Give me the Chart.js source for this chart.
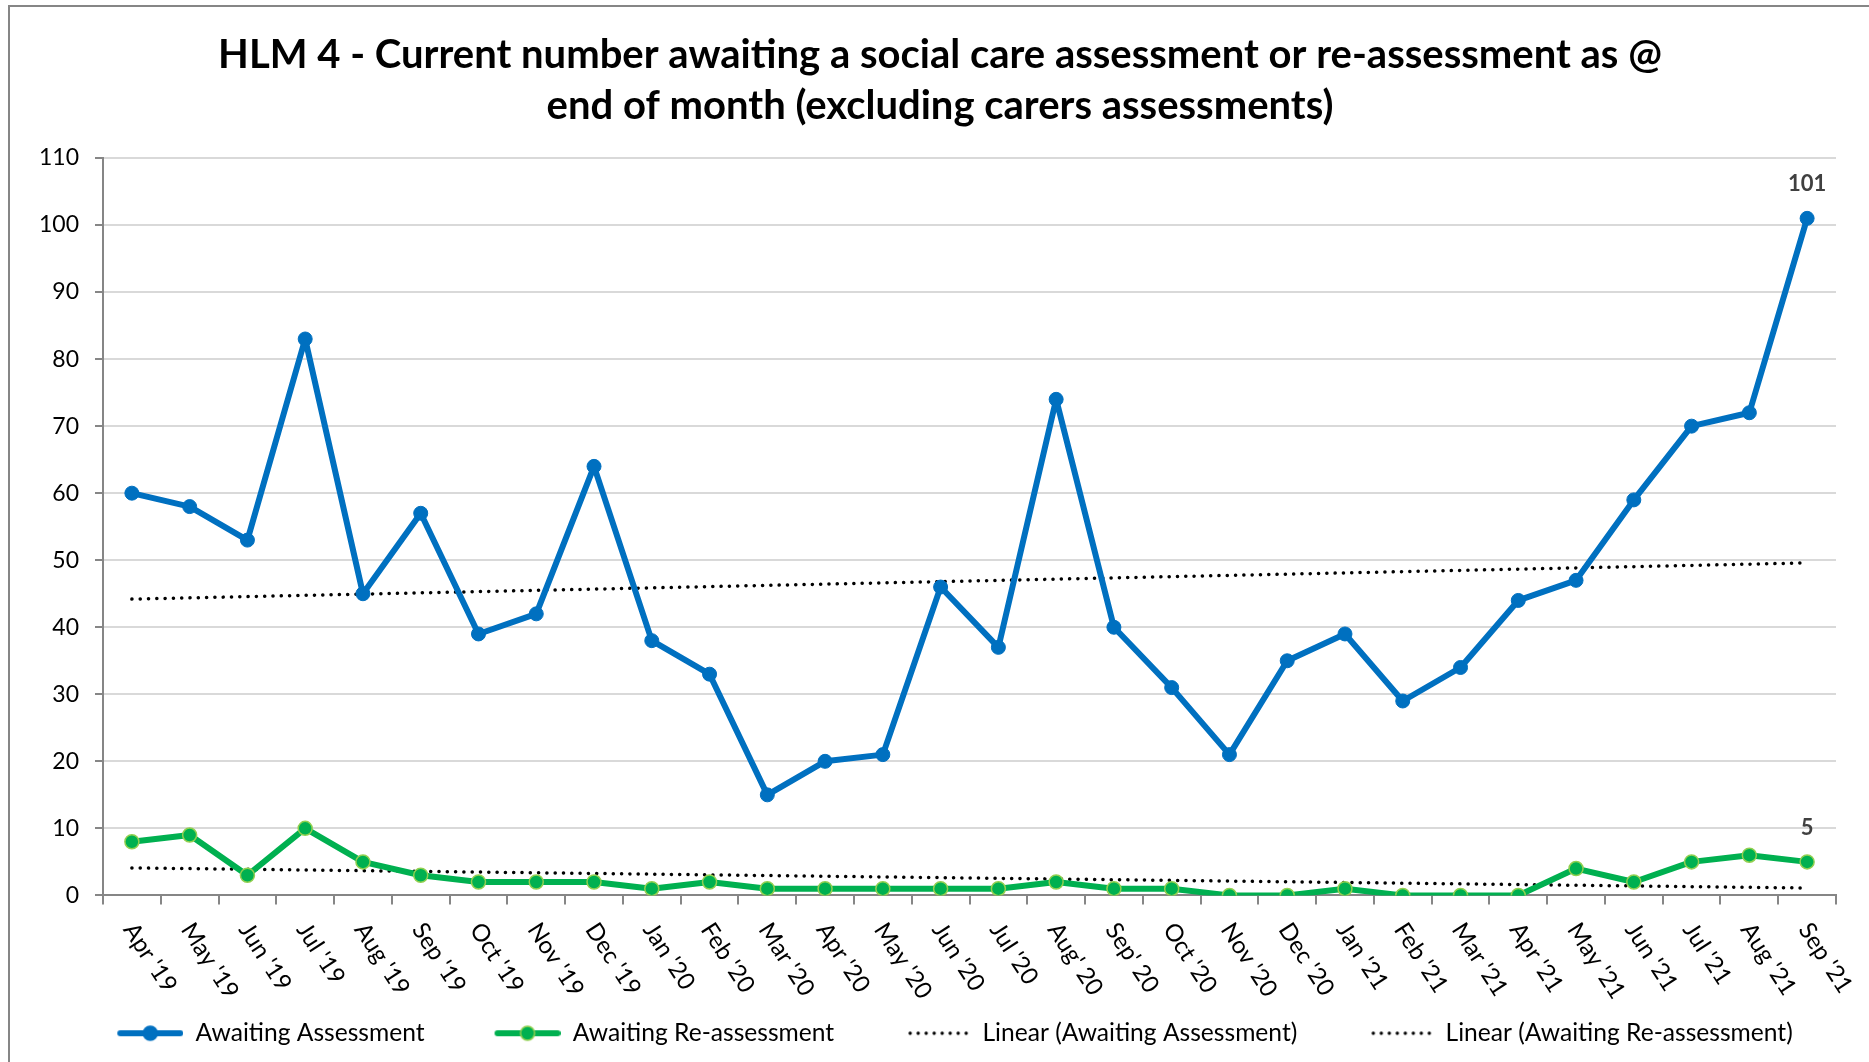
<!DOCTYPE html>
<html>
<head>
<meta charset="utf-8">
<title>HLM 4</title>
<script src="https://cdn.jsdelivr.net/npm/chart.js@4.4.1/dist/chart.umd.min.js"></script>
<style>
  html, body { margin: 0; padding: 0; background: #fff; overflow: hidden; }
  .frame { position: absolute; left: 8px; top: 5px; width: 1900px; height: 1100px; border: 2px solid #868686; }
  .chart-box { position: absolute; left: 0; top: 0; }
</style>
</head>
<body>
<div class="frame">
  <div class="chart-box"><canvas id="hlmChart" width="1860" height="1055"></canvas></div>
</div>
<script>
const months = ["Apr '19", "May '19", "Jun '19", "Jul '19", "Aug '19", "Sep '19", "Oct '19", "Nov '19", "Dec '19",
  "Jan '20", "Feb '20", "Mar '20", "Apr '20", "May '20", "Jun '20", "Jul '20", "Aug' 20", "Sep' 20", "Oct '20",
  "Nov '20", "Dec '20", "Jan '21", "Feb '21", "Mar '21", "Apr '21", "May '21", "Jun '21", "Jul '21", "Aug '21", "Sep '21"];

const awaitingAssessment = [60, 58, 53, 83, 45, 57, 39, 42, 64, 38, 33, 15, 20, 21, 46, 37, 74, 40, 31, 21,
  35, 39, 29, 34, 44, 47, 59, 70, 72, 101];
const awaitingReassessment = [8, 9, 3, 10, 5, 3, 2, 2, 2, 1, 2, 1, 1, 1, 1, 1, 2, 1, 1, 0,
  0, 1, 0, 0, 0, 4, 2, 5, 6, 5];

// trend line ends at the first and last month
const trendAssessment = [44.2, 49.6];
const trendReassessment = [4.1, 1.1];

const yMin = 0;
const yMax = 110;
const yStep = 10;

const seriesNames = ['Awaiting Assessment', 'Awaiting Re-assessment',
  'Linear (Awaiting Assessment)', 'Linear (Awaiting Re-assessment)'];

const FONT = 'Lato';
const BLUE = '#0070C0';
const GREEN = '#00B050';
const LIGHT_GREEN = '#92D050';

function trendData(ends) {
  return months.map((m, i) => (i === 0 ? ends[0] : (i === months.length - 1 ? ends[1] : null)));
}

// legend key: blank space on the left keeps the gap between legend entries
function legendSymbol(color, border, dotted) {
  const c = document.createElement('canvas');
  c.width = 96;
  c.height = 18;
  const g = c.getContext('2d');
  if (dotted) {
    g.fillStyle = '#000';
    for (let x = 36; x < 96; x += 8) {
      g.beginPath();
      g.arc(x, 9, 1.7, 0, Math.PI * 2);
      g.fill();
    }
  } else {
    g.strokeStyle = color;
    g.lineWidth = 6;
    g.lineCap = 'round';
    g.beginPath();
    g.moveTo(33, 9);
    g.lineTo(93, 9);
    g.stroke();
    g.fillStyle = color;
    g.strokeStyle = border;
    g.lineWidth = 1.5;
    g.beginPath();
    g.arc(63, 9, 7, 0, Math.PI * 2);
    g.fill();
    g.stroke();
  }
  return c;
}

const legendSymbols = [
  legendSymbol(BLUE, BLUE, false),
  legendSymbol(GREEN, LIGHT_GREEN, false),
  legendSymbol('#000', '#000', true),
  legendSymbol('#000', '#000', true)
];

// month labels run down to the right from each tick
const monthLabels = {
  id: 'monthLabels',
  afterDraw(chart) {
    const {ctx} = chart;
    const x = chart.scales.x;
    ctx.save();
    ctx.font = '24px ' + FONT;
    ctx.fillStyle = '#000';
    ctx.textAlign = 'left';
    ctx.textBaseline = 'middle';
    months.forEach((m, i) => {
      ctx.save();
      ctx.translate(x.getPixelForValue(i) - 3, x.top + 30);
      ctx.rotate(57 * Math.PI / 180);
      ctx.fillText(m, 0, 0);
      ctx.restore();
    });
    ctx.restore();
  }
};

// value label over the last point of each main series
const lastValues = {
  id: 'lastValues',
  afterDatasetsDraw(chart) {
    const {ctx} = chart;
    ctx.save();
    ctx.font = 'bold 22px ' + FONT;
    ctx.fillStyle = '#404040';
    ctx.textAlign = 'center';
    ctx.textBaseline = 'middle';
    [0, 1].forEach(di => {
      const data = chart.data.datasets[di].data;
      const pt = chart.getDatasetMeta(di).data[data.length - 1];
      ctx.fillText(String(data[data.length - 1]), pt.x, pt.y - 34);
    });
    ctx.restore();
  }
};

new Chart(document.getElementById('hlmChart'), {
  type: 'line',
  data: {
    labels: months,
    datasets: [
      {
        label: seriesNames[0],
        data: awaitingAssessment,
        borderColor: BLUE,
        backgroundColor: BLUE,
        borderWidth: 6,
        borderJoinStyle: 'round',
        pointRadius: 7,
        pointBorderWidth: 1,
        pointBorderColor: BLUE,
        pointBackgroundColor: BLUE,
        tension: 0,
        order: 1
      },
      {
        label: seriesNames[1],
        data: awaitingReassessment,
        borderColor: GREEN,
        backgroundColor: GREEN,
        borderWidth: 6,
        borderJoinStyle: 'round',
        pointRadius: 7,
        pointBorderWidth: 1.5,
        pointBorderColor: LIGHT_GREEN,
        pointBackgroundColor: GREEN,
        tension: 0,
        order: 1
      },
      {
        label: seriesNames[2],
        data: trendData(trendAssessment),
        borderColor: '#000',
        borderWidth: 3.5,
        borderDash: [0.1, 8.2],
        borderCapStyle: 'round',
        pointRadius: 0,
        spanGaps: true,
        order: 2
      },
      {
        label: seriesNames[3],
        data: trendData(trendReassessment),
        borderColor: '#000',
        borderWidth: 3.5,
        borderDash: [0.1, 8.2],
        borderCapStyle: 'round',
        pointRadius: 0,
        spanGaps: true,
        order: 2
      }
    ]
  },
  options: {
    responsive: false,
    animation: false,
    layout: { padding: { left: 0, right: 0, top: 0, bottom: 6.5 } },
    plugins: {
      title: {
        display: true,
        text: ['HLM 4 - Current number awaiting a social care assessment or re-assessment as @',
          'end of month (excluding carers assessments)'],
        color: '#000',
        font: { family: FONT, size: 40, weight: 'bold', lineHeight: 1.275 },
        padding: { top: 23, bottom: 26 }
      },
      legend: {
        position: 'bottom',
        labels: {
          color: '#000',
          font: { family: FONT, size: 24.6 },
          usePointStyle: true,
          pointStyleWidth: 96,
          padding: 40,
          generateLabels(chart) {
            const items = Chart.defaults.plugins.legend.labels.generateLabels(chart);
            items.forEach((it, i) => { it.pointStyle = legendSymbols[i]; });
            return items;
          }
        }
      },
      tooltip: { enabled: false }
    },
    scales: {
      x: {
        offset: true,
        border: { color: '#868686', width: 2 },
        grid: { display: true, offset: true, drawOnChartArea: false, drawTicks: true, tickLength: 9, tickColor: '#868686', lineWidth: 2 },
        ticks: { display: false },
        afterFit(scale) { scale.height += 76.5; }
      },
      y: {
        min: yMin,
        max: yMax,
        border: { color: '#868686', width: 2 },
        grid: { color: '#D9D9D9', lineWidth: 2, tickColor: '#868686', tickLength: 8 },
        ticks: { stepSize: yStep, color: '#000', font: { family: FONT, size: 23 }, padding: 16 },
        afterFit(scale) { scale.width = 93; }
      },
      // empty right-hand axis, only holds the margin beside the plot
      yRight: {
        position: 'right',
        display: true,
        grid: { display: false },
        border: { display: false },
        ticks: { display: false },
        afterFit(scale) { scale.width = 34; }
      }
    }
  },
  plugins: [monthLabels, lastValues]
});
</script>
</body>
</html>
